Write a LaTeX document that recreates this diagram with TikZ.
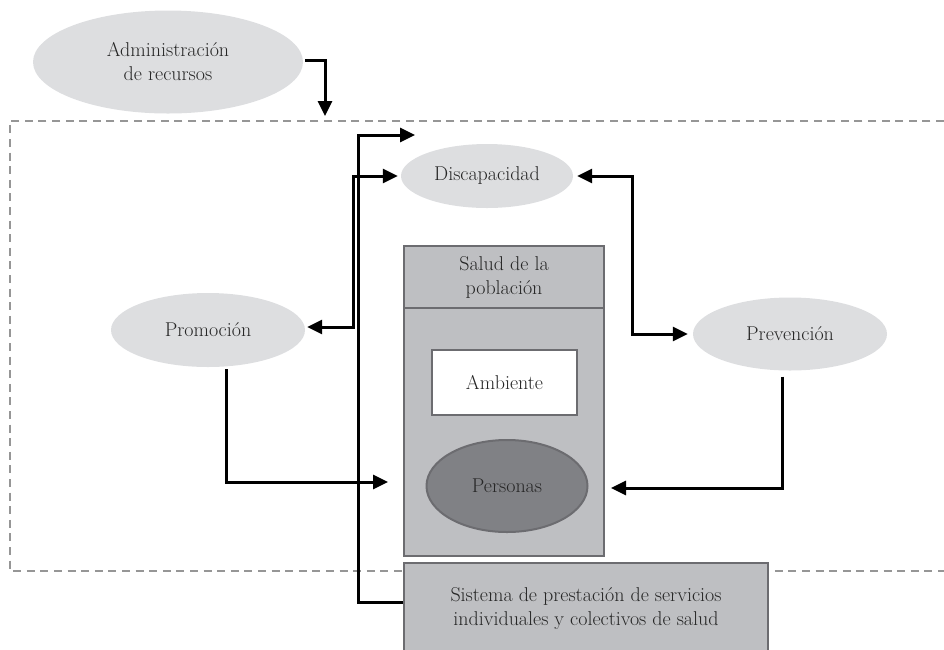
\documentclass[tikz,border=0pt]{standalone}
\usepackage{tikz}
\usetikzlibrary{arrows,arrows.meta}
\usetikzlibrary{shapes.geometric}
\definecolor{grisclaro}{RGB}{221,222,224}
\definecolor{grismedio}{RGB}{190,191,194}
\definecolor{grisoscuro}{RGB}{128,129,133}
\definecolor{borde}{RGB}{108,108,112}
\definecolor{punteado}{RGB}{150,150,150}

\begin{document}
\begin{tikzpicture}[x=1pt,y=-1pt,font=\fontsize{20}{24}\selectfont,text=black!85]
	\tikzstyle{ovalo}=[ellipse,fill=grisclaro,inner sep=0pt,align=center]
	\tikzstyle{caja}=[rectangle,draw=borde,line width=2pt,fill=grismedio,inner sep=0pt,align=center]
	\tikzstyle{flecha}=[line width=3pt,-{Triangle[length=15pt,width=14pt]}]
	\tikzstyle{doble}=[line width=3pt,{Triangle[length=15pt,width=14pt]}-{Triangle[length=15pt,width=14pt]}]
	\useasboundingbox (0,0) rectangle (944,649);
	% zona punteada
	\draw[punteado,line width=1.3pt,dash pattern=on 8pt off 5.6pt] (944,121) -- (10,121) -- (10,571) -- (944,571);
	% ovalos
	\node[ovalo,minimum width=270pt,minimum height=103pt] (admin) at (168,62){Administración\\de recursos};
	\node[ovalo,minimum width=172pt,minimum height=64pt] (disc) at (487,176){Discapacidad};
	\node[ovalo,minimum width=194pt,minimum height=74pt] (prom) at (208,330){Promoción};
	\node[ovalo,minimum width=194pt,minimum height=73pt] (prev) at (790,334){Prevención};
	% salud de la poblacion
	\node[caja,minimum width=200pt,minimum height=248pt] (cuerpo) at (504,432){};
	\node[caja,minimum width=200pt,minimum height=62pt] (salud) at (504,277){Salud de la\\población};
	\node[caja,fill=white,minimum width=145pt,minimum height=65pt] (amb) at (504.5,382.5){Ambiente};
	\node[ellipse,draw=borde,line width=2pt,fill=grisoscuro,inner sep=0pt,minimum width=161pt,minimum height=92pt] (pers) at (507,486){Personas};
	\node[caja,minimum width=364pt,minimum height=92pt] (sist) at (586,609){Sistema de prestación de servicios\\individuales y colectivos de salud};
	% extremos libres
	\coordinate (c1) at (325,116);
	\coordinate (c2) at (415,135);
	\coordinate (c3) at (388,482);
	\coordinate (c4) at (611,488);
	% flechas
	\draw[flecha] ([xshift=2pt,yshift=2pt]admin.east) -| (c1);
	\draw[doble] ([xshift=2pt,yshift=3pt]prom.east) -- ++(46,0) |- ([xshift=-3pt]disc.west);
	\draw[flecha] ([yshift=7pt]sist.west) -- ++(-45,0) |- (c2);
	\draw[doble,shorten <=4pt,shorten >=5pt] (disc.east) -- ++(59,0) |- (prev.west);
	\draw[flecha] ([xshift=18pt,yshift=-2pt]prom.south) |- (c3);
	\draw[flecha] ([xshift=-8pt,yshift=-6pt]prev.south) |- (c4);
\end{tikzpicture}
\end{document}
